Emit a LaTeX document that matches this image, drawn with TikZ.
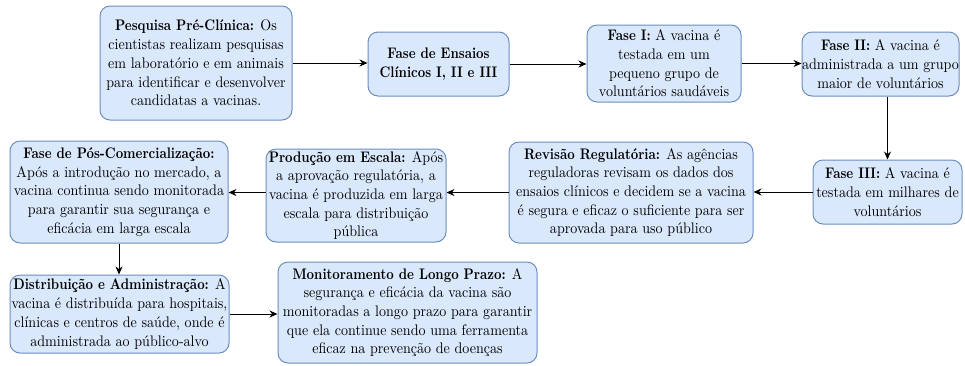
\documentclass[tikz,border=0pt]{standalone}
\usepackage{fontspec}
\newfontfamily\boxfont{lmroman10}[Extension=.otf, UprightFont=*-regular, BoldFont=*-bold,
  UprightFeatures={FakeStretch=0.92}, BoldFeatures={FakeStretch=0.85}]
\usetikzlibrary{arrows.meta}
\definecolor{boxfill}{HTML}{DAE8FC}
\definecolor{boxline}{HTML}{6C8EBF}
\begin{document}
\begin{tikzpicture}[x=1pt,y=1pt,
  box/.style={rectangle, rounded corners=10pt, draw=boxline, fill=boxfill, line width=1pt,
    inner sep=0pt, align=center, font=\boxfont\fontsize{15.3}{18.7}\selectfont},
  arr/.style={-{Stealth[length=8pt,width=7pt]}, line width=1pt, draw=black}]
\useasboundingbox (0,0) rectangle (965,-365);
\node[box, minimum width=192, minimum height=114] (b1) at (196,-63)
  {\textbf{Pesquisa Pré-Clínica:} Os\\cientistas realizam pesquisas\\em laboratório e em animais\\para identificar e desenvolver\\candidatas a vacinas.};
\node[box, minimum width=141, minimum height=64] (b2) at (438.5,-64)
  {\textbf{Fase de Ensaios}\\\textbf{Clínicos I, II e III}};
\node[box, minimum width=154, minimum height=77] (b3) at (664,-63.5)
  {\textbf{Fase I:} A vacina é\\testada em um\\pequeno grupo de\\voluntários saudáveis};
\node[box, minimum width=155, minimum height=64] (b4) at (880.5,-64)
  {\textbf{Fase II:} A vacina é\\administrada a um grupo\\maior de voluntários};
\node[box, minimum width=149, minimum height=64] (b5) at (887.5,-192)
  {\textbf{Fase III:} A vacina é\\testada em milhares de\\voluntários};
\node[box, minimum width=244, minimum height=101] (b6) at (631,-192.5)
  {\textbf{Revisão Regulatória:} As agências\\reguladoras revisam os dados dos\\ensaios clínicos e decidem se a vacina\\é segura e eficaz o suficiente para ser\\aprovada para uso público};
\node[box, minimum width=180, minimum height=93] (b7) at (356,-195.5)
  {\textbf{Produção em Escala:} Após\\a aprovação regulatória, a\\vacina é produzida em larga\\escala para distribuição\\pública};
\node[box, minimum width=218, minimum height=102] (b8) at (119,-192)
  {\textbf{Fase de Pós-Comercialização:}\\Após a introdução no mercado, a\\vacina continua sendo monitorada\\para garantir sua segurança e\\eficácia em larga escala};
\node[box, minimum width=219, minimum height=78] (b9) at (119.5,-314)
  {\textbf{Distribuição e Administração:} A\\vacina é distribuída para hospitais,\\clínicas e centros de saúde, onde é\\administrada ao público-alvo};
\node[box, minimum width=259, minimum height=101] (b10) at (407.5,-312.5)
  {\textbf{Monitoramento de Longo Prazo:} A\\segurança e eficácia da vacina são\\monitoradas a longo prazo para garantir\\que ela continue sendo uma ferramenta\\eficaz na prevenção de doenças};
\draw[arr] (b1.east) -- (b1.east -| b2.west);
\draw[arr] (b2.east) -- (b2.east -| b3.west);
\draw[arr] (b3.east) -- (b3.east -| b4.west);
\draw[arr] (b4.south -| b5.north) -- (b5.north);
\draw[arr] (b5.west) -- (b5.west -| b6.east);
\draw[arr] (b6.west) -- (b6.west -| b7.east);
\draw[arr] (b6.west -| b7.west) -- (b6.west -| b8.east);
\draw[arr] (b8.south) -- (b8.south |- b9.north);
\draw[arr] (b9.east) -- (b9.east -| b10.west);
\end{tikzpicture}
\end{document}
